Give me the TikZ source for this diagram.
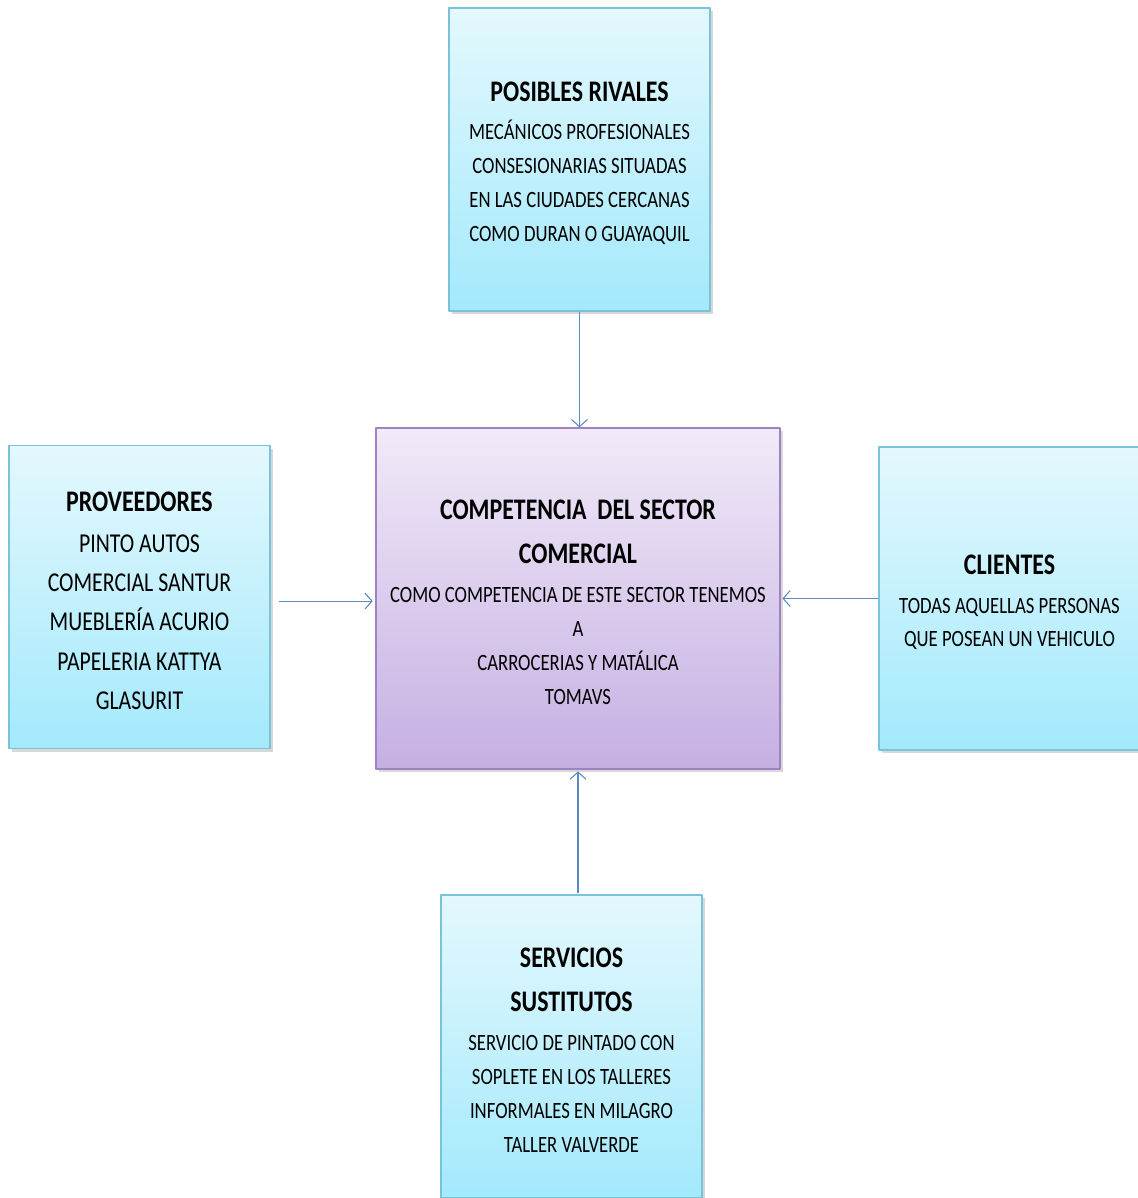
\documentclass[tikz,border=0pt]{standalone}
\usepackage{fontspec}
\setmainfont{Carlito}[FakeStretch=0.8]
\usetikzlibrary{arrows.meta,shadows}
\definecolor{cajaarriba}{HTML}{E4F8FD}
\definecolor{cajaabajo}{HTML}{A3E9FC}
\definecolor{bordecaja}{HTML}{78C3D8}
\definecolor{centroarriba}{HTML}{F1EAF8}
\definecolor{centroabajo}{HTML}{C5AFE2}
\definecolor{bordecentro}{HTML}{9F82C4}
\definecolor{flechas}{HTML}{5B89C4}
\newcommand\titulo{\fontsize{17}{25}\selectfont\bfseries}
\newcommand\holgura{\rule{0pt}{15.5pt}}
\begin{document}
\begin{tikzpicture}[x=0.02cm,y=-0.02cm,line join=round,
  caja/.style={draw=bordecaja,line width=0.8pt,top color=cajaarriba,bottom color=cajaabajo,
    minimum width=5.22cm,minimum height=6.06cm,align=center,inner sep=0pt,
    font=\fontsize{13.3}{19.3}\selectfont,
    drop shadow={shadow xshift=1.8pt,shadow yshift=-1.8pt,opacity=0.3}},
  cajacentro/.style={caja,draw=bordecentro,top color=centroarriba,bottom color=centroabajo,
    minimum width=8.08cm,minimum height=6.82cm},
  flecha/.style={draw=flechas,line width=0.6pt,-{Straight Barb[length=4pt,width=9pt]}}]
\useasboundingbox[fill=white] (0,0) rectangle (1138,1198);
\node[caja] (rivales) at (579.5,159.5) {\holgura\titulo POSIBLES RIVALES\\[2.2pt]
  MECÁNICOS PROFESIONALES\\ CONSESIONARIAS SITUADAS\\
  EN LAS CIUDADES CERCANAS\\ COMO DURAN O GUAYAQUIL};
\node[cajacentro] (comp) at (578,598.5) {\holgura\titulo COMPETENCIA~ DEL SECTOR\\[5.6pt]
  \titulo COMERCIAL\\[2.8pt] COMO COMPETENCIA DE ESTE SECTOR TENEMOS\\ A\\
  CARROCERIAS Y MATÁLICA\\ TOMAVS};
\node[caja,font=\fontsize{15.5}{22.3}\selectfont] (prov) at (139.5,597) {\holgura\titulo PROVEEDORES\\[1pt]
  PINTO AUTOS\\ COMERCIAL SANTUR\\ MUEBLERÍA ACURIO\\ PAPELERIA KATTYA\\ GLASURIT};
\node[caja] (clientes) at (1009.5,598.5) {\holgura\titulo CLIENTES\\[2.8pt]
  TODAS AQUELLAS PERSONAS\\ QUE POSEAN UN VEHICULO};
\node[caja] (sustitutos) at (571.5,1046.5) {\holgura\titulo SERVICIOS\\[5.6pt]
  \titulo SUSTITUTOS\\[2.8pt] SERVICIO DE PINTADO CON\\ SOPLETE EN LOS TALLERES\\
  INFORMALES EN MILAGRO\\ TALLER VALVERDE};
\draw[flecha] (rivales.south) -- (rivales.south |- comp.north);
\draw[flecha,shorten <=4.5pt,shorten >=1.5pt] ([yshift=-2.3pt]prov.east) -- ([yshift=-2.3pt]prov.east -| comp.west);
\draw[flecha,shorten >=1pt] (clientes.west) -- (clientes.west -| comp.east);
\draw[flecha,shorten <=1pt,shorten >=1pt] (comp.south |- sustitutos.north) -- (comp.south);
\end{tikzpicture}
\end{document}
